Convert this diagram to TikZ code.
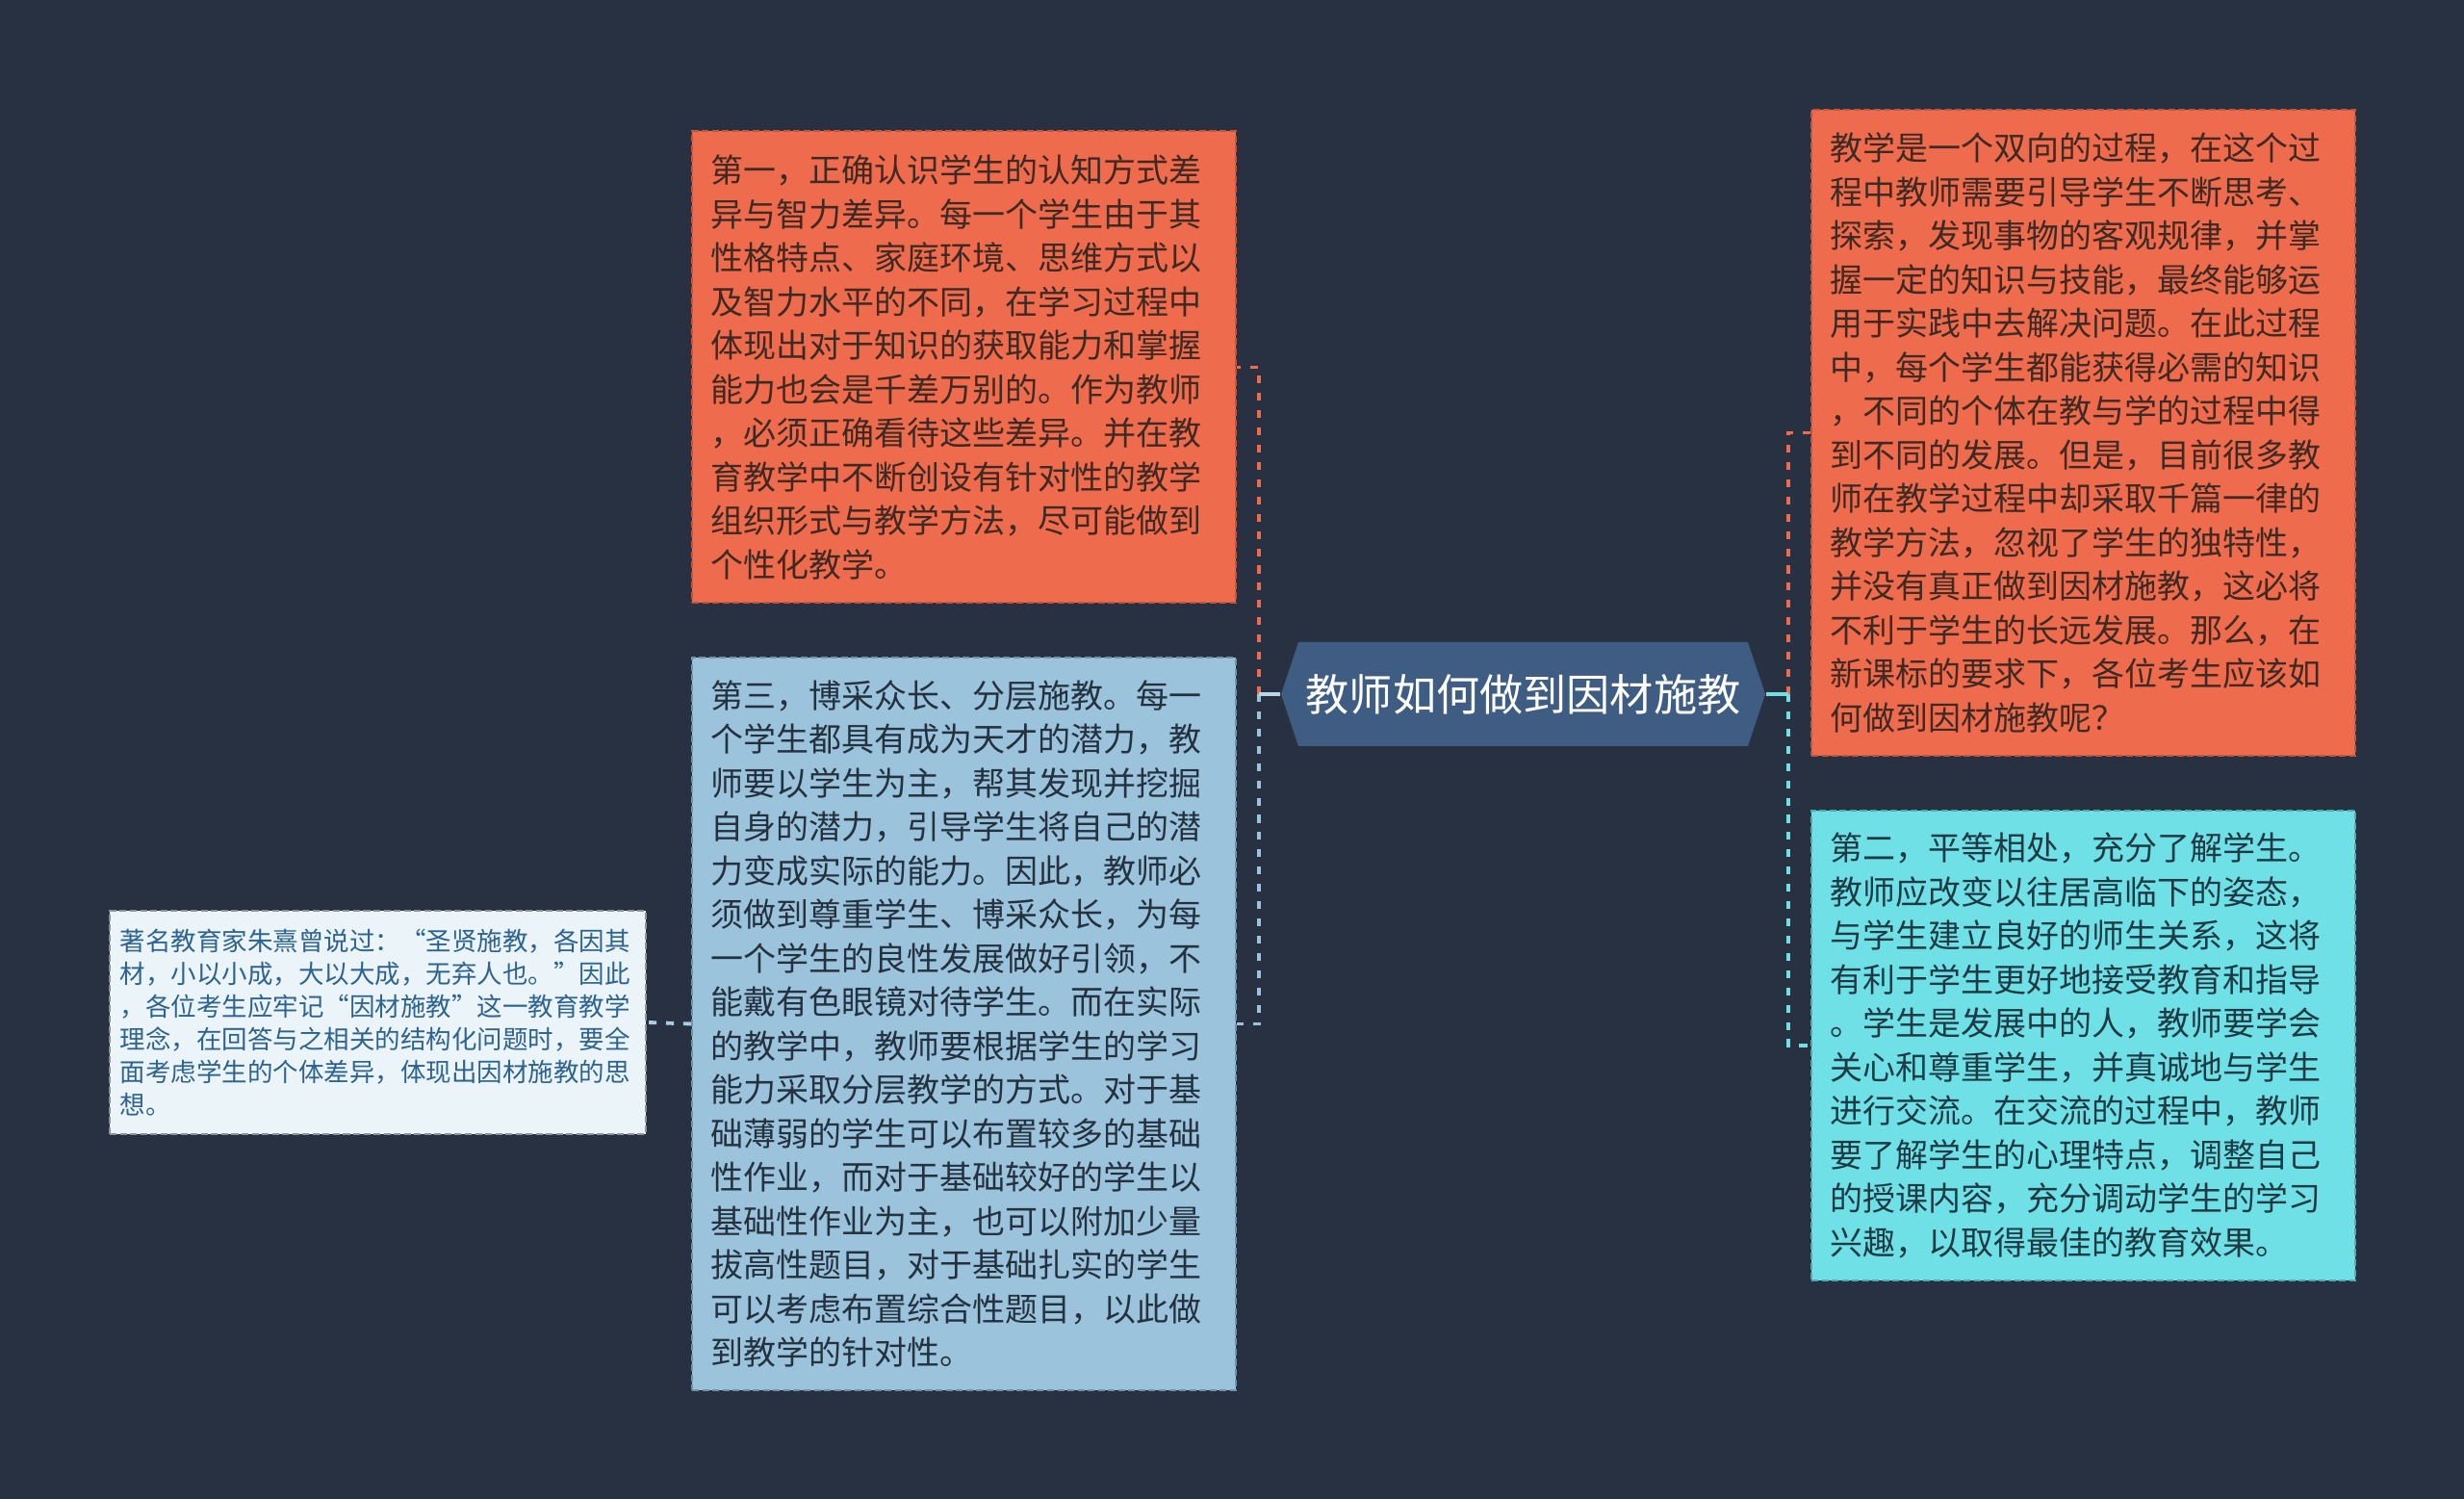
\documentclass[tikz,border=0pt]{standalone}
\usepackage{fontspec}
\newfontfamily\cjk{Noto Sans CJK SC}
\usetikzlibrary{shapes.symbols, positioning}

\definecolor{bgnavy}{HTML}{283142}
\definecolor{cardorange}{HTML}{EE6B4D}
\definecolor{cardblue}{HTML}{9CC3DC}
\definecolor{cardcyan}{HTML}{6FE0E6}
\definecolor{cardpale}{HTML}{EBF4F9}
\definecolor{hubblue}{HTML}{3F5D83}
\definecolor{inkbrown}{HTML}{3E2A22}
\definecolor{inkdark}{HTML}{243240}
\definecolor{inkteal}{HTML}{1E3A44}
\definecolor{inkpale}{HTML}{2E6390}

\begin{document}
\begin{tikzpicture}[
    card_style/.style={draw, dash pattern=on 2pt off 1pt, line width=0.55pt, anchor=north west, align=left,
        inner xsep=0.2cm, inner ysep=0pt, text width=5.25cm, minimum width=5.65cm,
        font=\cjk\fontsize{9.67pt}{12.95pt}\selectfont},
    card_orange/.style={card_style, fill=cardorange, draw=cardorange!80!black, text=inkbrown},
    card_blue/.style={card_style, fill=cardblue, draw=cardblue!75!black, text=inkdark},
    card_cyan/.style={card_style, fill=cardcyan, draw=cardcyan!75!black, text=inkteal},
    card_pale/.style={card_style, fill=cardpale, draw=cardpale!60!black, text=inkpale,
        inner xsep=0.11cm, text width=5.35cm, minimum width=5.57cm,
        font=\cjk\fontsize{7.54pt}{9.67pt}\selectfont},
    hub_style/.style={signal, signal to=west and east, signal pointer angle=143, fill=hubblue, text=white,
        minimum width=5.03cm, minimum height=1.08cm, inner sep=0pt,
        font=\cjk\fontsize{12.85pt}{15pt}\selectfont},
    link_style/.style={line width=1.1pt, dash pattern=on 2.3pt off 2.8pt},
    stub_style/.style={line width=1.1pt}
]

% Canvas
\fill[bgnavy] (0,0) rectangle (25.6,-15.57);
\useasboundingbox (0,0) rectangle (25.6,-15.57);

% Central topic
\node[hub_style] (hub) at (15.825,-7.21) {教师如何做到因材施教};

% Left branch
\node[card_orange, minimum height=4.9cm] (first) at (7.18,-1.355) {%
第一，正确认识学生的认知方式差\\
异与智力差异。每一个学生由于其\\
性格特点、家庭环境、思维方式以\\
及智力水平的不同，在学习过程中\\
体现出对于知识的获取能力和掌握\\
能力也会是千差万别的。作为教师\\
，必须正确看待这些差异。并在教\\
育教学中不断创设有针对性的教学\\
组织形式与教学方法，尽可能做到\\
个性化教学。};

\node[card_blue, minimum height=7.61cm] (third) at (7.18,-6.82) {%
第三，博采众长、分层施教。每一\\
个学生都具有成为天才的潜力，教\\
师要以学生为主，帮其发现并挖掘\\
自身的潜力，引导学生将自己的潜\\
力变成实际的能力。因此，教师必\\
须做到尊重学生、博采众长，为每\\
一个学生的良性发展做好引领，不\\
能戴有色眼镜对待学生。而在实际\\
的教学中，教师要根据学生的学习\\
能力采取分层教学的方式。对于基\\
础薄弱的学生可以布置较多的基础\\
性作业，而对于基础较好的学生以\\
基础性作业为主，也可以附加少量\\
拔高性题目，对于基础扎实的学生\\
可以考虑布置综合性题目，以此做\\
到教学的针对性。};

\node[card_pale, minimum height=2.32cm] (quote) at (1.13,-9.45) {%
著名教育家朱熹曾说过：“圣贤施教，各因其\\
材，小以小成，大以大成，无弃人也。”因此\\
，各位考生应牢记“因材施教”这一教育教学\\
理念，在回答与之相关的结构化问题时，要全\\
面考虑学生的个体差异，体现出因材施教的思\\
想。};

% Right branch
\node[card_orange, minimum height=6.71cm] (intro) at (18.81,-1.13) {%
教学是一个双向的过程，在这个过\\
程中教师需要引导学生不断思考、\\
探索，发现事物的客观规律，并掌\\
握一定的知识与技能，最终能够运\\
用于实践中去解决问题。在此过程\\
中，每个学生都能获得必需的知识\\
，不同的个体在教与学的过程中得\\
到不同的发展。但是，目前很多教\\
师在教学过程中却采取千篇一律的\\
教学方法，忽视了学生的独特性，\\
并没有真正做到因材施教，这必将\\
不利于学生的长远发展。那么，在\\
新课标的要求下，各位考生应该如\\
何做到因材施教呢？};

\node[card_cyan, minimum height=4.88cm] (second) at (18.81,-8.41) {%
第二，平等相处，充分了解学生。\\
教师应改变以往居高临下的姿态，\\
与学生建立良好的师生关系，这将\\
有利于学生更好地接受教育和指导\\
。学生是发展中的人，教师要学会\\
关心和尊重学生，并真诚地与学生\\
进行交流。在交流的过程中，教师\\
要了解学生的心理特点，调整自己\\
的授课内容，充分调动学生的学习\\
兴趣，以取得最佳的教育效果。};

% Connectors
\coordinate (lbus) at (13.08,-7.21);
\coordinate (rbus) at (18.58,-7.21);

\draw[link_style, cardorange] (lbus) |- (first.east);
\draw[link_style, cardblue] (lbus) |- (third.east);
\draw[stub_style, cardblue!70!white] (hub.west) -- (lbus);
\draw[link_style, cardblue!85!white] (third.west) -- (quote.east);

\draw[link_style, cardorange] (rbus) |- (intro.west);
\draw[link_style, cardcyan] (rbus) |- (second.west);
\draw[stub_style, cardcyan] (hub.east) -- (rbus);

\end{tikzpicture}
\end{document}
